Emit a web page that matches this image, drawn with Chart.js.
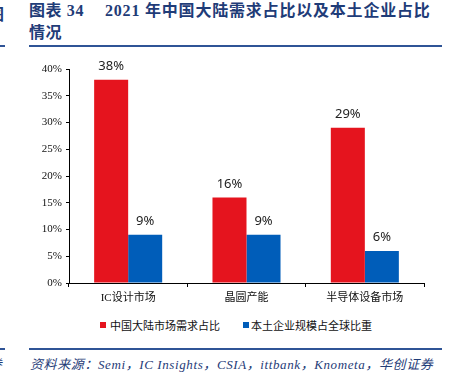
<!DOCTYPE html>
<html><head><meta charset="utf-8">
<script src="https://cdn.jsdelivr.net/npm/chart.js@4"></script>
<style>
html,body{margin:0;padding:0;background:#fff;width:449px;height:387px;overflow:hidden;position:relative}
.t{position:absolute;font:bold 16px "Liberation Serif","Noto Sans CJK SC",serif;color:#1f3c78;line-height:22px;white-space:nowrap}
.hl{position:absolute;height:2px;background:#2f5496}
#src{position:absolute;left:30px;top:354px;font:italic 13px "Liberation Serif","Noto Sans CJK SC",serif;color:#1f3c78;white-space:nowrap;letter-spacing:0.6px}
#frag1{position:absolute;left:-12px;top:1px;font:bold 16px "Noto Sans CJK SC";color:#1f3c78}
#frag2{position:absolute;left:-10px;top:354px;font:italic 12px "Noto Sans CJK SC";color:#1f3c78}
#cv{position:absolute;left:0;top:50px}
.lg{position:absolute;top:317px;font:11px "Noto Sans CJK SC",sans-serif;color:#111;line-height:16px;white-space:nowrap}
.bx{position:absolute;top:322px;width:6px;height:6px}
</style></head><body>
<div id="frag1">图</div>
<div class="t" style="left:29px;top:0px;letter-spacing:0.6px">图表 34</div>
<div class="t" style="left:105px;top:0px;letter-spacing:0.8px">2021 年中国大陆需求占比以及本土企业占比</div>
<div class="t" style="left:29px;top:22px;letter-spacing:0.6px">情况</div>
<div class="hl" style="left:0;width:5px;top:45px"></div>
<div class="hl" style="left:29px;width:413px;top:45px"></div>
<div class="hl" style="left:0;width:5px;top:348px"></div>
<div class="hl" style="left:29px;width:413px;top:348px"></div>
<div id="frag2">券</div>
<div id="src">资料来源：Semi，IC Insights，CSIA，ittbank，Knometa，华创证券</div>
<canvas id="cv" width="449" height="260" style="width:449px;height:260px"></canvas>
<div id="legend"></div>
<script>
const categories = ['IC设计市场', '晶圆产能', '半导体设备市场'];
const seriesNames = ['中国大陆市场需求占比', '本土企业规模占全球比重'];
const demandShare = [38, 16, 29];
const localShare = [9, 9, 6];
const yTicks = [0, 5, 10, 15, 20, 25, 30, 35, 40];
const seriesColors = ['#E5141E', '#005DB9'];

const valueLabels = {
  id: 'valueLabels',
  afterDatasetsDraw(chart) {
    const ctx = chart.ctx;
    ctx.save();
    ctx.font = '13px "Noto Sans", "DejaVu Sans", sans-serif';
    ctx.fillStyle = '#222';
    ctx.textAlign = 'center';
    ctx.textBaseline = 'bottom';
    chart.data.datasets.forEach((ds, i) => {
      chart.getDatasetMeta(i).data.forEach((bar, j) => {
        ctx.fillText(ds.data[j] + '%', bar.x, bar.y - 7);
      });
    });
    ctx.restore();
  }
};

const chart = new Chart(document.getElementById('cv'), {
  type: 'bar',
  data: {
    labels: categories,
    datasets: [
      { label: seriesNames[0], data: demandShare, backgroundColor: seriesColors[0], borderWidth: 0 },
      { label: seriesNames[1], data: localShare, backgroundColor: seriesColors[1], borderWidth: 0 }
    ]
  },
  options: {
    responsive: false,
    animation: false,
    devicePixelRatio: 1,
    layout: { padding: { top: 19, right: 25, left: 0, bottom: 0 } },
    plugins: { tooltip: { enabled: false }, legend: { display: false } },
    datasets: { bar: { categoryPercentage: 0.575, barPercentage: 1 } },
    scales: {
      x: {
        grid: { drawOnChartArea: false, drawTicks: true, tickLength: 4, color: '#000', offset: true },
        border: { color: '#000', width: 1 },
        ticks: { color: '#111', padding: 5, font: { size: 11, family: '"Liberation Serif", "Noto Sans CJK SC", serif' } },
        afterFit(s) { s.height = 27; }
      },
      y: {
        min: 0, max: 40,
        afterBuildTicks(s) { s.ticks = yTicks.map(v => ({ value: v })); },
        grid: { drawOnChartArea: false, drawTicks: true, tickLength: 3, color: '#000' },
        border: { color: '#000', width: 1 },
        ticks: { color: '#111', padding: 4, font: { size: 11, family: '"Liberation Serif", serif' }, callback: v => v + '%' },
        afterFit(s) { s.width = 69; }
      }
    }
  },
  plugins: [valueLabels]
});

// HTML legend built from the series names
const lgPos = [[100, 110], [243, 251]];
const lgEl = document.getElementById('legend');
seriesNames.forEach((name, i) => {
  const b = document.createElement('div');
  b.className = 'bx'; b.style.left = lgPos[i][0] + 'px'; b.style.background = seriesColors[i];
  const t = document.createElement('div');
  t.className = 'lg'; t.style.left = lgPos[i][1] + 'px'; t.textContent = name;
  lgEl.appendChild(b); lgEl.appendChild(t);
});
</script>
</body></html>
